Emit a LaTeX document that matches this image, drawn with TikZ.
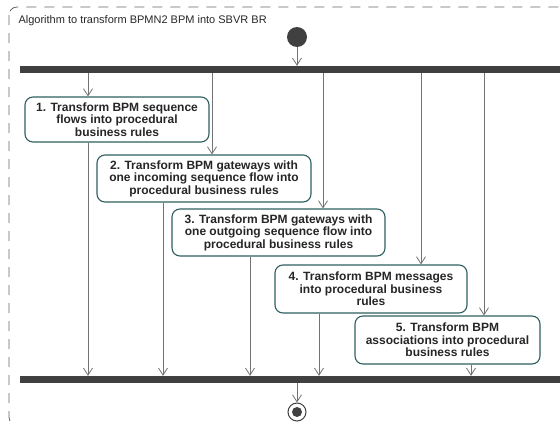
\documentclass[tikz,border=0pt]{standalone}
\usepackage{fontspec}
\setmainfont{Liberation Sans}
\usetikzlibrary{arrows.meta}

\colorlet{bar fill}{black!75}
\definecolor{box edge}{HTML}{2F5F5F}
\colorlet{flow line}{black!55}
\colorlet{frame line}{black!60}
\tikzset{activity/.style={draw=box edge, fill=white, rounded corners=8pt, line width=1.1pt,
        align=center, inner sep=0pt, text=black!85,
        font=\fontsize{12}{12.4}\selectfont\bfseries},
    syncbar/.style={fill=bar fill, anchor=west, minimum width=560pt, minimum height=7pt, inner sep=0pt},
    flow/.style={draw=flow line, line width=0.8pt, -{Straight Barb[length=7pt,width=9pt]}},
    frame/.style={draw=frame line, line width=0.8pt, dash pattern=on 10pt off 8pt, rounded corners=8pt}}

\begin{document}
\begin{tikzpicture}[x=1pt,y=-1pt]

    \useasboundingbox (0,0) rectangle (560,423);
    \draw[frame] (9,7) rectangle (640,425);
    \node[anchor=west, font=\fontsize{11}{12}\selectfont, text=black!85] (title) at (15,21)
        {Algorithm to transform BPMN2 BPM into SBVR BR};

    \node[circle, fill=bar fill, minimum size=20pt, inner sep=0pt] (start) at (297,37) {};
    \node[syncbar] (fork) at (20,69.5) {};
    \node[syncbar] (join) at (20,379.5) {};
    \node[circle, draw=bar fill, fill=white, line width=1pt, minimum size=18pt, inner sep=0pt] (stop) at (297,412) {};
    \fill[bar fill] (stop) circle (5pt);

    \node[activity, minimum width=184pt, minimum height=45pt] (seq) at (117,119.5)
        {1. Transform BPM sequence\\flows into procedural\\business rules};
    \node[activity, minimum width=214pt, minimum height=47pt] (gwin) at (204,178.5)
        {2. Transform BPM gateways with\\one incoming sequence flow into\\procedural business rules};
    \node[activity, minimum width=213pt, minimum height=47pt] (gwout) at (278.5,232.5)
        {3. Transform BPM gateways with\\one outgoing sequence flow into\\procedural business rules};
    \node[activity, minimum width=192pt, minimum height=48pt] (msg) at (371,289)
        {4. Transform BPM messages\\into procedural business\\rules};
    \node[activity, minimum width=185pt, minimum height=48pt] (assoc) at (447.5,340)
        {5. Transform BPM\\associations into procedural\\business rules};

    \coordinate (seq in) at (88,0);
    \coordinate (seq out) at (88,0);
    \coordinate (gwin in) at (212,0);
    \coordinate (gwin out) at (163,0);
    \coordinate (gwout in) at (323,0);
    \coordinate (gwout out) at (250,0);
    \coordinate (msg in) at (421,0);
    \coordinate (msg out) at (319,0);
    \coordinate (assoc in) at (484,0);
    \coordinate (assoc out) at (471,0);

    \draw[flow] (start) -- (start |- fork.north);
    \foreach \act in {seq,gwin,gwout,msg,assoc} {
        \draw[flow] (fork.south -| \act\space in) -- (\act.north -| \act\space in);
        \draw[flow] (\act.south -| \act\space out) -- (join.north -| \act\space out);
    }
    \draw[flow] (join.south -| stop) -- (stop);

\end{tikzpicture}
\end{document}
